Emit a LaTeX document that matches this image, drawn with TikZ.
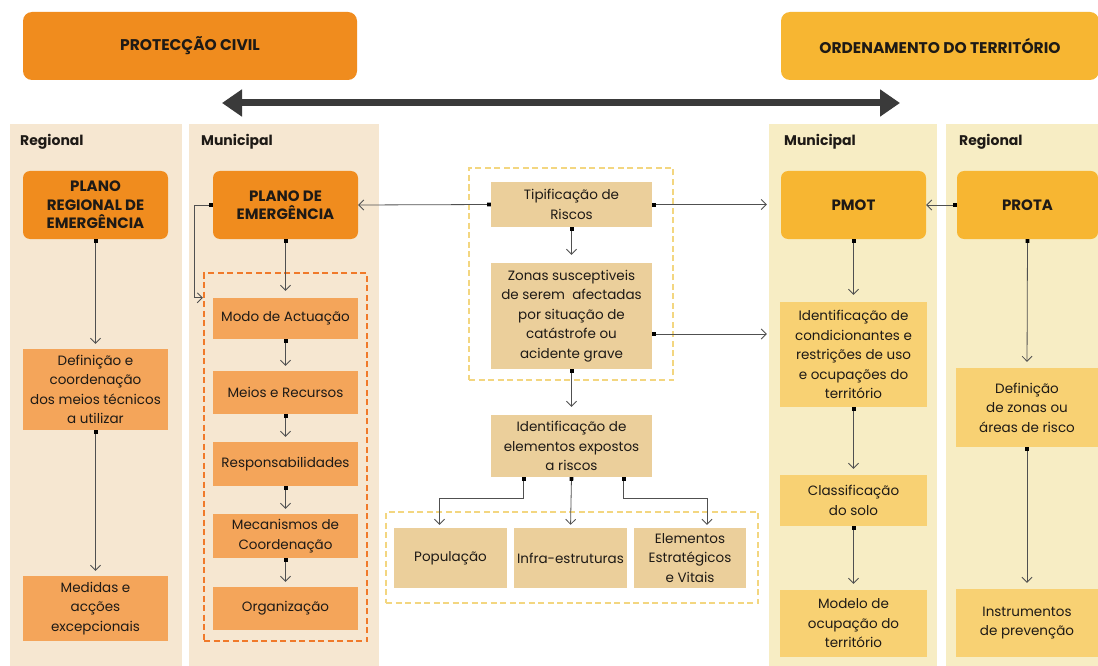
\documentclass[tikz,border=0pt]{standalone}
\usepackage{fontspec}
\setmainfont{Poppins}
\usetikzlibrary{arrows.meta,positioning}
\definecolor{orangeH}{HTML}{F08C1E}
\definecolor{orangeL}{HTML}{F4A55A}
\definecolor{panelO}{HTML}{F6E7D1}
\definecolor{yellowH}{HTML}{F7B632}
\definecolor{yellowL}{HTML}{F8D173}
\definecolor{panelY}{HTML}{F7EDC4}
\definecolor{tanbox}{HTML}{EBCF9B}
\definecolor{ink}{HTML}{1E1A16}
\definecolor{linegray}{HTML}{505050}
\definecolor{bigarrow}{HTML}{3A3A3A}
\definecolor{dashO}{HTML}{F07A2A}
\definecolor{dashY}{HTML}{F3D680}
\tikzset{
  every node/.style={text=ink, align=center, inner sep=0pt},
  header/.style={rounded corners=9pt, fill=#1, font=\fontsize{15.5}{18}\selectfont\bfseries},
  panel/.style={fill=#1, minimum height=542pt},
  plan/.style={rounded corners=7pt, fill=#1, minimum width=145pt, minimum height=68pt,
    font=\fontsize{15}{18.5}\selectfont\bfseries},
  item/.style={fill=#1, font=\fontsize{13.5}{19.5}\selectfont},
  lvl/.style={anchor=west, font=\fontsize{14}{16}\selectfont\bfseries},
  grp/.style={draw=#1, line width=2.4pt, dash pattern=on 6pt off 3.5pt},
  conn/.style={draw=linegray, line width=0.8pt,
    {Square[length=3.6pt,width=3.6pt,fill=black,color=black]}-{Straight Barb[length=5pt,width=10pt,line width=0.8pt]}},
}
\begin{document}
\begin{tikzpicture}[x=1pt,y=-1pt]
\useasboundingbox[fill=white] (0,0) rectangle (1098,666);

% column panels
\node[panel=panelO, minimum width=172pt] (rl) at (96,395) {};
\node[panel=panelO, minimum width=190pt] (ml) at (284,395) {};
\node[panel=panelY, minimum width=168pt] (mr) at (853,395) {};
\node[panel=panelY, minimum width=152pt] (rr) at (1022,395) {};

% headers
\node[header=orangeH, minimum width=334pt, minimum height=68pt] (pc) at (190,46) {PROTECÇÃO CIVIL};
\node[header=yellowH, minimum width=318pt, minimum height=68pt] (ot) at (940,46) {ORDENAMENTO DO TERRITÓRIO};

% link between the two domains
\coordinate (la) at (222,103);
\coordinate (ra) at (900,103);
\draw[bigarrow, line width=7pt, {Triangle[length=20pt,width=26pt]}-{Triangle[length=20pt,width=26pt]}] (la) -- (ra);

% level labels
\node[lvl] (l1) at (20,142) {Regional};
\node[lvl] (l2) at (201,142) {Municipal};
\node[lvl] (l3) at (784,142) {Municipal};
\node[lvl] (l4) at (959,142) {Regional};

% plans
\node[plan=orangeH] (prem) at (95.5,205) {PLANO\\REGIONAL DE\\EMERGÊNCIA};
\node[plan=orangeH] (pe) at (285.5,205) {PLANO DE\\EMERGÊNCIA};
\node[plan=yellowH] (pmot) at (853.5,205) {PMOT};
\node[plan=yellowH, minimum width=141pt] (prota) at (1027.5,205) {PROTA};

% regional civil protection column
\node[item=orangeL, minimum width=145pt, minimum height=81pt] (def1) at (95.5,389.5) {Definição e\\coordenação\\dos meios técnicos\\a utilizar};
\node[item=orangeL, minimum width=145pt, minimum height=65pt] (med) at (95.5,608.5) {Medidas e\\acções\\excepcionais};

% municipal emergency plan contents
\node[grp=dashO, minimum width=163pt, minimum height=368pt] (grpO) at (285.5,457) {};
\node[item=orangeL, minimum width=145pt, minimum height=41pt] (modo) at (285.5,318.5) {Modo de Actuação};
\node[item=orangeL, minimum width=145pt, minimum height=43pt] (meios) at (285.5,392.5) {Meios e Recursos};
\node[item=orangeL, minimum width=145pt, minimum height=44pt] (resp) at (285.5,464) {Responsabilidades};
\node[item=orangeL, minimum width=145pt, minimum height=44pt] (mec) at (285.5,536) {Mecanismos de\\Coordenação};
\node[item=orangeL, minimum width=145pt, minimum height=43pt] (org) at (285.5,608.5) {Organização};

% risk analysis in the centre
\node[grp=dashY, minimum width=204pt, minimum height=212pt] (grpY) at (571,274) {};
\node[item=tanbox, minimum width=161pt, minimum height=45pt] (tip) at (571.5,204.5) {Tipificação de\\Riscos};
\node[item=tanbox, minimum width=161pt, minimum height=106pt] (zon) at (571.5,316) {Zonas susceptiveis\\de serem\ \ afectadas\\por situação de\\catástrofe ou\\acidente grave};
\node[item=tanbox, minimum width=161pt, minimum height=62pt] (ide) at (571.5,446) {Identificação de\\elementos expostos\\a riscos};
\node[grp=dashY, minimum width=372pt, minimum height=91pt] (grpB) at (572,557.5) {};
\node[item=tanbox, minimum width=113pt, minimum height=60pt] (pop) at (450.5,558) {População};
\node[item=tanbox, minimum width=113pt, minimum height=60pt] (inf) at (570.5,558) {Infra-estruturas};
\node[item=tanbox, minimum width=112pt, minimum height=60pt] (ele) at (690,558) {Elementos\\Estratégicos\\e Vitais};

% land-use planning columns
\node[item=yellowL, minimum width=147pt, minimum height=105pt] (idc) at (853.5,354.5) {Identificação de\\condicionantes e\\restrições de uso\\e ocupações do\\território};
\node[item=yellowL, minimum width=147pt, minimum height=51pt] (cls) at (853.5,500.5) {Classificação\\do solo};
\node[item=yellowL, minimum width=147pt, minimum height=67pt] (mdl) at (853.5,623.5) {Modelo de\\ocupação do\\território};
\node[item=yellowL, minimum width=142pt, minimum height=79pt] (dfz) at (1027,407.5) {Definição\\de zonas ou\\áreas de risco};
\node[item=yellowL, minimum width=142pt, minimum height=68pt] (ins) at (1027,623) {Instrumentos\\de prevenção};

% connectors
\draw[conn, shorten >=5pt] (prem.south) -- (def1.north);
\draw[conn, shorten >=5pt] (def1.south) -- (med.north);
\draw[conn, shorten >=7pt] (pe.south) -- (modo.north);
\draw[conn] (pe.west) -- ++(-18,0) |- (grpO.west |- modo.north);
\draw[conn, shorten >=5pt] (modo.south) -- (meios.north);
\draw[conn, shorten >=5pt] (meios.south) -- (resp.north);
\draw[conn, shorten >=5pt] (resp.south) -- (mec.north);
\draw[conn, shorten >=5pt] (mec.south) -- (org.north);

\draw[conn] (tip.west) -- (pe.east);
\draw[conn, shorten >=2pt] (tip.east) -- (tip.east -| mr.west);
\draw[conn, shorten >=8pt] (tip.south) -- (zon.north);
\draw[conn, shorten >=2pt] ([yshift=-18pt]zon.east) -- ([yshift=-18pt]zon.east -| mr.west);
\draw[conn, shorten >=8pt] (zon.south) -- (ide.north);
\draw[conn, shorten >=3pt] ([xshift=-48pt]ide.south) -- ++(0,21) -| ([xshift=-11pt]pop.north);
\draw[conn, shorten >=3pt] (ide.south) -- (inf.north);
\draw[conn, shorten >=3pt] ([xshift=52pt]ide.south) -- ++(0,21) -| ([xshift=17pt]ele.north);

\draw[conn] (prota.west) -- (pmot.east);
\draw[conn, shorten >=7pt] (pmot.south) -- (idc.north);
\draw[conn, shorten >=6pt] (idc.south) -- (cls.north);
\draw[conn, shorten >=6pt] (cls.south) -- (mdl.north);
\draw[conn, shorten >=6pt] (prota.south) -- (dfz.north);
\draw[conn, shorten >=6pt] (dfz.south) -- (ins.north);
\end{tikzpicture}
\end{document}
